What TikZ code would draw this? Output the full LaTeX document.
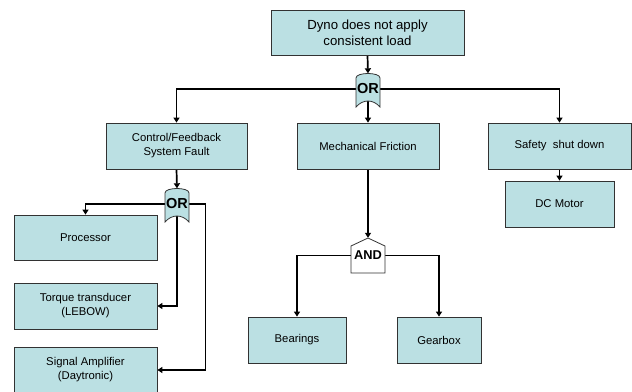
\documentclass[tikz,border=0pt]{standalone}
\usepackage{fontspec}
\setmainfont{Liberation Sans}
\usetikzlibrary{arrows.meta,calc}
\pgfdeclarelayer{bg}
\pgfsetlayers{bg,main}
\definecolor{boxfill}{RGB}{187,224,227}
\definecolor{boxline}{RGB}{50,50,50}
\tikzset{
  box/.style={draw=boxline, line width=0.8pt, fill=boxfill, rectangle, inner sep=0pt,
    align=center, font=\fontsize{11.3}{14}\selectfont},
  conn/.style={draw=black, line width=1.7pt},
  arr/.style={conn, -{Triangle[length=5pt,width=6pt]}},
  gatetext/.style={inner sep=0pt, font=\bfseries\fontsize{14.5}{14}\selectfont},
  gateshape/.style={draw=boxline, line width=0.8pt},
}
\begin{document}
\begin{tikzpicture}[x=1pt,y=-1pt]
\useasboundingbox (0,0) rectangle (632,391);
% boxes
\node[box, minimum width=193pt, minimum height=45pt, font=\fontsize{13.2}{16}\selectfont] (top) at (367.5,32.5) {Dyno does not apply\\consistent load};
\node[box, minimum width=141pt, minimum height=46pt] (ctrl) at (176.5,146) {Control/Feedback\\System Fault};
\node[box, minimum width=142pt, minimum height=46pt] (mech) at (368,146) {Mechanical Friction};
\node[box, minimum width=143pt, minimum height=46pt] (safe) at (559.5,146) {Safety\ \ shut down};
\node[box, minimum width=109pt, minimum height=46pt] (dc) at (559.5,204) {DC Motor};
\node[box, minimum width=143pt, minimum height=45pt] (proc) at (85.5,237.5) {Processor};
\node[box, minimum width=143pt, minimum height=46pt] (torq) at (85.5,306) {Torque transducer\\(LEBOW)};
\node[box, minimum width=143pt, minimum height=46pt] (sig) at (85.5,370) {Signal Amplifier\\(Daytronic)};
\node[box, minimum width=98pt, minimum height=46pt] (bear) at (297,340) {Bearings};
\node[box, minimum width=84pt, minimum height=46pt] (gear) at (439,340) {Gearbox};
% OR gate 1
\draw[gateshape, fill=boxfill] (356,107) -- (356,78) .. controls (356,72) and (380,72) .. (380,78) -- (380,107) .. controls (373,99) and (363,99) .. (356,107) -- cycle;
\node[gatetext, minimum width=24pt, minimum height=31pt] (g1) at (368,89) {OR};
% OR gate 2
\draw[gateshape, fill=boxfill] (165,222) -- (165,193) .. controls (165,187) and (189,187) .. (189,193) -- (189,222) .. controls (182,214) and (172,214) .. (165,222) -- cycle;
\node[gatetext, minimum width=24pt, minimum height=31pt] (g2) at (177,204) {OR};
% AND gate
\draw[gateshape, fill=white] (351,273) -- (351,246) -- (368,238) -- (385,246) -- (385,273) -- cycle;
\node[gatetext, font=\bfseries\fontsize{12.8}{13}\selectfont, minimum width=34pt, minimum height=35pt] (and) at (368,255.5) {AND};
% connectors
\begin{pgfonlayer}{bg}
\draw[arr] (top.south) -- (g1.north);
\draw[arr] (g1.center) -| (ctrl.north);
\draw[arr] (g1.center) -- (mech.north);
\draw[arr] (g1.center) -| (safe.north);
\draw[arr] (safe.south) -- (dc.north);
\draw[arr] (ctrl.south) -- (g2.north);
\draw[arr] (g2.center) -| (proc.north);
\draw[arr] (g2.center) |- (torq.east);
\draw[arr] (g2.center) -| ([xshift=48pt]sig.east) -- (sig.east);
\draw[arr] (mech.south) -- (and.north);
\draw[arr] (and.west) -| (bear.north);
\draw[arr] (and.east) -| (gear.north);
\end{pgfonlayer}
\end{tikzpicture}
\end{document}
